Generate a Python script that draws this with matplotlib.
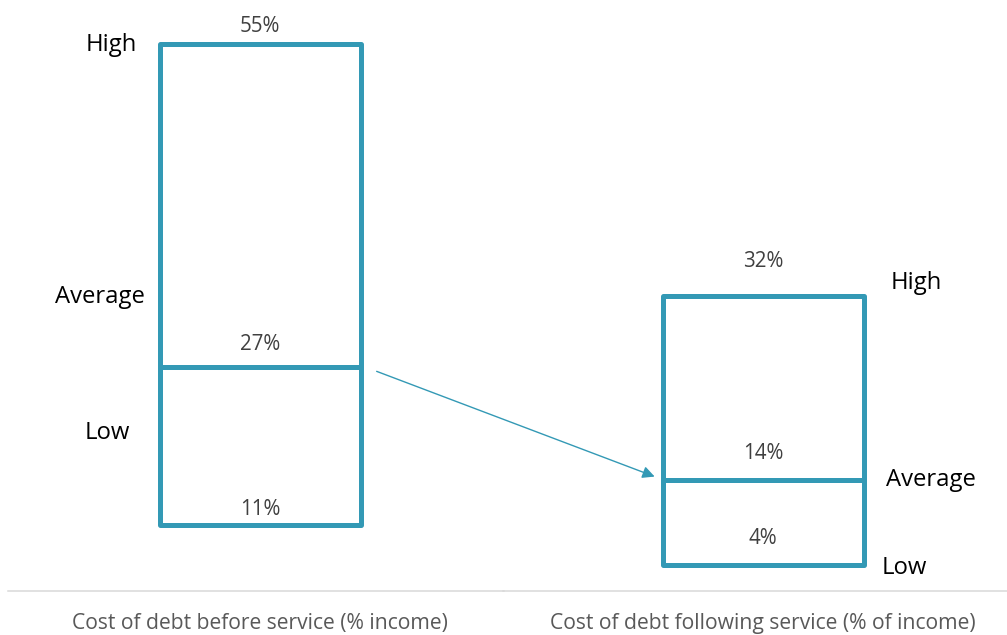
import numpy as np
import matplotlib
matplotlib.use("Agg")
from matplotlib import pyplot as plt
from matplotlib.patches import ConnectionPatch

plt.rcParams["font.family"] = ["Open Sans", "DejaVu Sans"]

# data
categories = ["Cost of debt before service (% income)",
              "Cost of debt following service (% of income)"]
tiers = ["High", "Average", "Low"]
before = [55, 27, 11]   # high, average, low (% of income)
after = [32, 14, 4]

TEAL = "#3399b5"
GREY_TXT = "#595959"
EXP = 1.2  # boxes are drawn on a mild power scale


def fwd(v):
    v = np.asarray(v, dtype=float)
    return np.sign(v) * np.abs(v) ** EXP


def inv(u):
    u = np.asarray(u, dtype=float)
    return np.sign(u) * np.abs(u) ** (1 / EXP)


fig = plt.figure(figsize=(10.07, 6.35), dpi=100)
ax1 = fig.add_axes([0.00794, 0.06929, 0.49206, 0.93071])
ax2 = fig.add_axes([0.5, 0.06929, 0.5, 0.93071])

setup = [
    (ax1, before, categories[0], (-1.254, 1.211), (3.4, 132.2)),
    (ax2, after, categories[1], (-1.292, 1.213), (-0.38, 128.38)),
]
for ax, vals, cat, xlim, ulim in setup:
    high, avg, low = vals
    ax.set_yscale("function", functions=(fwd, inv))
    ax.bar(0, high - low, bottom=low, width=1, fill=False, edgecolor=TEAL,
           linewidth=3.6, joinstyle="round", clip_on=False)
    ax.hlines(avg, -0.5, 0.5, color=TEAL, linewidth=3.6, clip_on=False)
    ax.set_xlim(*xlim)
    ax.set_ylim(float(inv(ulim[0])), float(inv(ulim[1])))
    ax.set_xticks([0])
    ax.set_xticklabels([cat])
    ax.tick_params(axis="x", length=0, pad=16, labelsize=15.2,
                   labelcolor=GREY_TXT)
    ax.set_yticks([])
    ax.minorticks_off()
    for side in ("top", "left", "right"):
        ax.spines[side].set_visible(False)
    ax.spines["bottom"].set_color("#d9d9d9")
    ax.spines["bottom"].set_linewidth(1.1)
    ax.patch.set_alpha(0)

# percentage labels above each line
pct_offsets = [[18, 23, 16], [34, 27, 27]]
for ax, vals, offs in zip((ax1, ax2), (before, after), pct_offsets):
    for v, off in zip(vals, offs):
        ax.annotate(f"{v}%", xy=(0, v), xytext=(0, off),
                    textcoords="offset pixels", ha="center", va="center",
                    fontsize=14.8, color="#404040")

# tier names
left_offsets = [(-48, -1), (-60, 70), (-52, 92)]
for name, v, (dx, dy) in zip(tiers, before, left_offsets):
    ax1.annotate(name, xy=(-0.5, v), xytext=(dx, dy),
                 textcoords="offset pixels", ha="center", va="center",
                 fontsize=17.2, color="black")
right_offsets = [(27, 13), (22, 0), (18, -3)]
for name, v, (dx, dy) in zip(tiers, after, right_offsets):
    ax2.annotate(name, xy=(0.5, v), xytext=(dx, dy),
                 textcoords="offset pixels", ha="left", va="center",
                 fontsize=17.2, color="black")

arrow = ConnectionPatch(xyA=(0.58, before[1] - 0.4), coordsA=ax1.transData,
                        xyB=(-0.54, after[1] + 0.4), coordsB=ax2.transData,
                        arrowstyle="-|>", mutation_scale=18, color=TEAL,
                        linewidth=1.0, shrinkA=0, shrinkB=0)
fig.add_artist(arrow)

fig.savefig("out.png", dpi=100)
